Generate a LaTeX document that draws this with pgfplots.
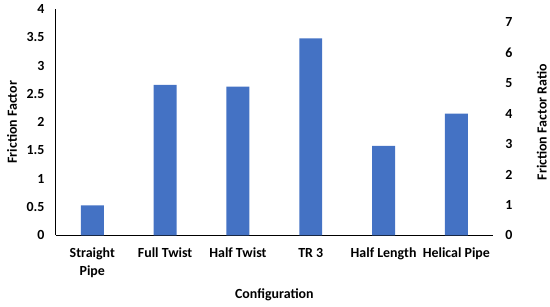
\documentclass[border=0pt]{standalone}
\usepackage{fontspec}
\setmainfont{Carlito}
\usepackage{pgfplots}
\pgfplotsset{compat=1.18}
\definecolor{barblue}{HTML}{4472C4}

\begin{document}
\begin{tikzpicture}
\pgfplotsset{
    every axis/.append style={
        scale only axis,
        width=438bp, height=227bp,
        xmin=-0.5, xmax=5.5,
        /pgf/number format/assume math mode=true,
        tick label style={font=\fontsize{14}{18}\selectfont\bfseries},
        label style={font=\fontsize{14}{17}\selectfont\bfseries},
        major tick length=0pt,
    }
}
% left axis: friction factor
\begin{axis}[
    axis x line*=bottom,
    axis y line*=left,
    axis line style={line width=0.9pt, -},
    ymin=0, ymax=4,
    ytick={0,0.5,...,4},
    xtick={0,1,2,3,4,5},
    xticklabels={{Straight\\Pipe},{Full Twist},{Half Twist},{TR 3},{Half Length},{Helical Pipe}},
    xticklabel style={align=center, yshift=-9pt},
    yticklabel style={xshift=-8pt},
    ylabel={Friction Factor},
    ylabel style={at={(axis description cs:-0.1005,0.5)}, anchor=center},
    xlabel={Configuration},
    xlabel style={at={(axis description cs:0.5,-0.264)}, anchor=center},
    ybar, bar width=23bp,
]
\addplot[fill=barblue, draw=none] coordinates {
    (0,0.53) (1,2.66) (2,2.63) (3,3.48) (4,1.58) (5,2.15)
};
\end{axis}
% right axis: friction factor ratio
\begin{axis}[
    axis x line=none,
    axis y line*=right,
    y axis line style={draw=none},
    ymin=0, ymax=7.44,
    ytick={0,1,...,7},
    yticklabel style={xshift=9pt},
    ylabel={Friction Factor Ratio},
    ylabel style={at={(axis description cs:1.112,0.5)}, anchor=center},
]
\addplot[draw=none] coordinates {(0,0)};
\end{axis}
\path[use as bounding box] (-56bp,-71bp) rectangle (494bp,236bp);
\end{tikzpicture}
\end{document}
